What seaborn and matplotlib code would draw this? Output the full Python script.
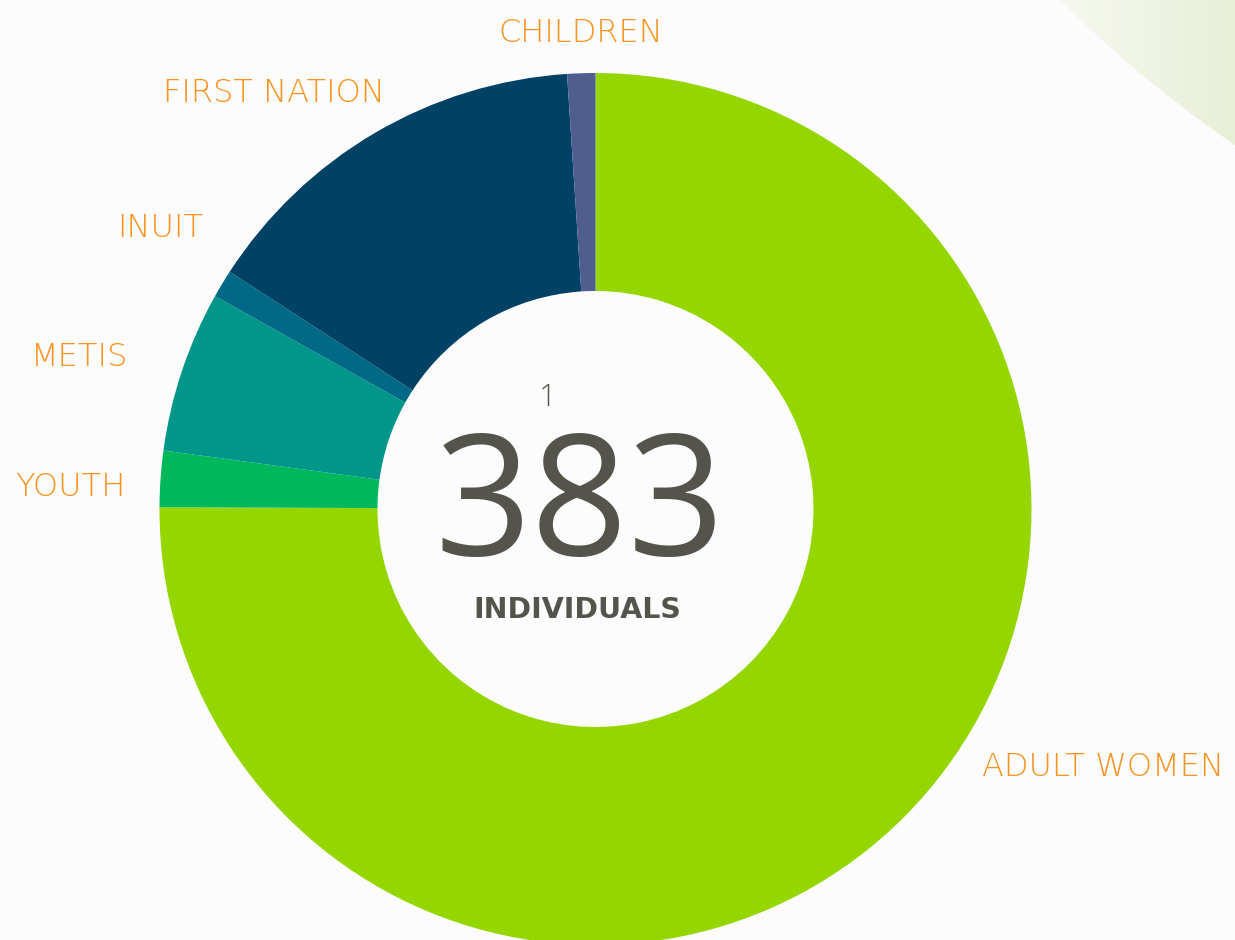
import numpy as np
import seaborn as sns
import matplotlib.pyplot as plt
from matplotlib.patches import Circle
from matplotlib.colors import LinearSegmentedColormap

# groups, read clockwise from 12 o'clock
groups = ['ADULT WOMEN', 'YOUTH', 'METIS', 'INUIT', 'FIRST NATION', 'CHILDREN']
counts = [289, 8, 23, 4, 57, 4]
colors = ['#95d600', '#00b85c', '#009689', '#006985', '#004166', '#505e8f']
total_label = '383'
sub_label = 'INDIVIDUALS'

# label anchor points in pixels (x centre, baseline y from top)
label_pos = {
    'ADULT WOMEN': (1103, 776),
    'YOUTH': (70, 496),
    'METIS': (80, 366),
    'INUIT': (160, 237),
    'FIRST NATION': (274, 102),
    'CHILDREN': (581, 42),
}

W, H = 1235, 940
sns.set_style('white')
plt.rcParams['font.family'] = ['DejaVu Sans']

fig = plt.figure(figsize=(W / 100, H / 100), dpi=100, facecolor='#fcfcfc')
ax = fig.add_axes([0, 0, 1, 1])
ax.set_facecolor('#fcfcfc')

# soft green circle in the top right corner
grad = np.linspace(0, 1, 256).reshape(1, -1)
cmap = LinearSegmentedColormap.from_list('soft', ['#f8faf3', '#e8efd7'])
img = ax.imshow(grad, cmap=cmap, extent=[1040, W, H - 160, H], aspect='auto', zorder=0)
clip = Circle((1953, H + 900), 1268, transform=ax.transData, fc='none', ec='none')
ax.add_patch(clip)
img.set_clip_path(clip)

ax.pie(counts, colors=colors, startangle=90, counterclock=False,
       center=(595.5, H - 509), radius=436,
       wedgeprops=dict(width=218, linewidth=0))

for g in groups:
    x, y = label_pos[g]
    ax.text(x, H - y, g, ha='center', va='baseline', fontsize=23,
            color='#f7931e', fontweight='light')

ax.text(548, H - 406, '1', ha='center', va='baseline', fontsize=22,
        color='#54544c', fontfamily='Open Sans', fontweight='light')
ax.text(579.5, H - 555, total_label, ha='center', va='baseline', fontsize=122,
        color='#54544c', fontfamily='Open Sans')
ax.text(577.5, H - 618, sub_label, ha='center', va='baseline', fontsize=20.5,
        color='#54544c', fontweight='bold')

ax.set_xlim(0, W)
ax.set_ylim(0, H)
ax.set_aspect('equal')
ax.axis('off')

plt.savefig('out.png', dpi=100, facecolor=fig.get_facecolor())
